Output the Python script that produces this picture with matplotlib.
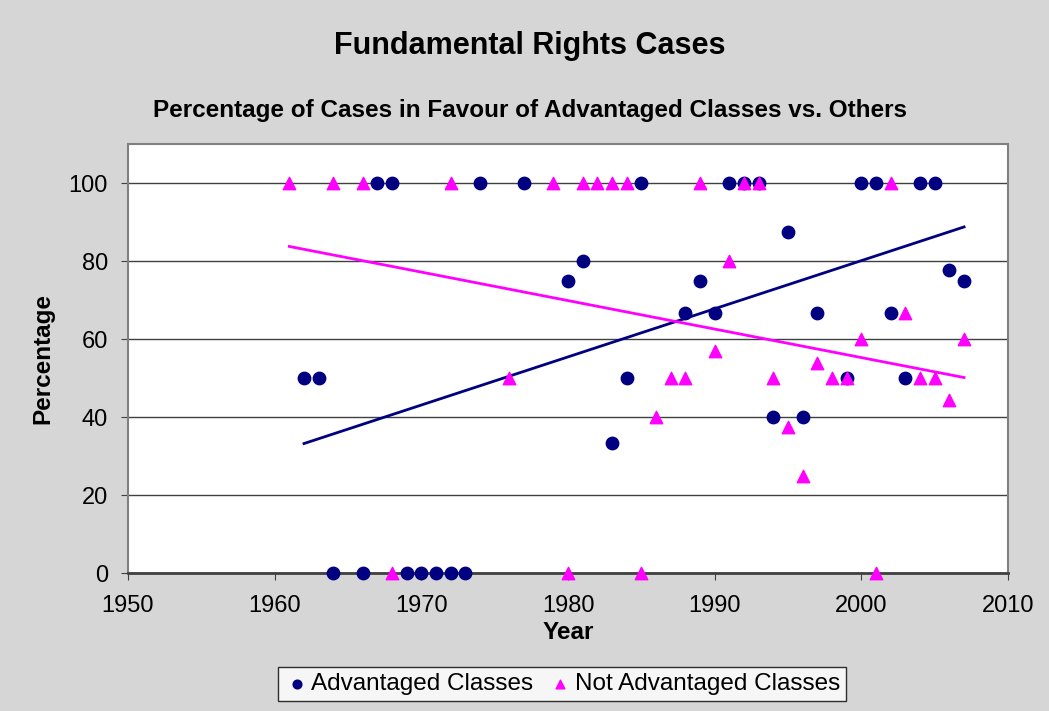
import numpy as np
import matplotlib
matplotlib.use("Agg")
import matplotlib.pyplot as plt

plt.rcParams['font.family'] = ['Liberation Sans', 'DejaVu Sans']

# Advantaged Classes
adv_years = [1962, 1963, 1964, 1966, 1967, 1968, 1969, 1970, 1971, 1972, 1973,
             1974, 1977, 1980, 1981, 1983, 1984, 1985, 1988, 1989, 1990, 1991,
             1992, 1993, 1994, 1995, 1996, 1997, 1999, 2000, 2001, 2002, 2003,
             2004, 2005, 2006, 2007]
adv_pct = [50, 50, 0, 0, 100, 100, 0, 0, 0, 0, 0,
           100, 100, 75, 80, 33.3, 50, 100, 66.7, 75, 66.7, 100,
           100, 100, 40, 87.5, 40, 66.7, 50, 100, 100, 66.7, 50,
           100, 100, 77.8, 75]

# Not Advantaged Classes
nadv_years = [1961, 1964, 1966, 1968, 1972, 1976, 1979, 1980, 1981, 1982, 1983,
              1984, 1985, 1986, 1987, 1988, 1989, 1990, 1991, 1992, 1993, 1994,
              1995, 1996, 1997, 1998, 1999, 2000, 2001, 2002, 2003, 2004, 2005,
              2006, 2007]
nadv_pct = [100, 100, 100, 0, 100, 50, 100, 0, 100, 100, 100,
            100, 0, 40, 50, 50, 100, 57.1, 80, 100, 100, 50,
            37.5, 25, 53.8, 50, 50, 60, 0, 100, 66.7, 50, 50,
            44.4, 60]

navy = '#000080'
magenta = '#ff00ff'

fig = plt.figure(figsize=(10.49, 7.11), dpi=100, facecolor='#d6d6d6')
ax = fig.add_axes([0.122, 0.194, 0.839, 0.603])
ax.set_facecolor('white')

# linear trendlines
for xs, ys, c in [(adv_years, adv_pct, navy), (nadv_years, nadv_pct, magenta)]:
    xs = np.array(xs, dtype=float)
    k, b = np.polyfit(xs, np.array(ys, dtype=float), 1)
    xx = np.array([xs.min(), xs.max()])
    ax.plot(xx, k * xx + b, color=c, lw=2, zorder=2)

ax.scatter(adv_years, adv_pct, s=80, marker='o', color=navy, zorder=3,
           label='Advantaged Classes', clip_on=False)
ax.scatter(nadv_years, nadv_pct, s=80, marker='^', color=magenta, zorder=3,
           label='Not Advantaged Classes', clip_on=False)

ax.set_xlim(1950, 2010)
ax.set_ylim(0, 110)
ax.set_xticks(range(1950, 2011, 10))
ax.set_yticks(range(0, 101, 20))
ax.yaxis.grid(True, color='#404040', lw=1)
ax.set_axisbelow(True)
ax.tick_params(labelsize=17, direction='out', length=5, color='#404040')
ax.tick_params(axis='x', pad=11)
ax.tick_params(axis='y', pad=9.5)

for side in ['top', 'right', 'left']:
    ax.spines[side].set_color('#808080')
    ax.spines[side].set_linewidth(1.5)
ax.spines['bottom'].set_color('#404040')
ax.spines['bottom'].set_linewidth(2)

ax.set_xlabel('Year', fontsize=17.5, fontweight='bold', labelpad=3)
ax.set_ylabel('Percentage', fontsize=17.5, fontweight='bold', labelpad=10)

fig.text(0.505, 0.935, 'Fundamental Rights Cases', ha='center', va='center',
         fontsize=22, fontweight='bold')
fig.text(0.505, 0.845, 'Percentage of Cases in Favour of Advantaged Classes vs. Others',
         ha='center', va='center', fontsize=17.5, fontweight='bold')

leg = fig.legend(loc='center', bbox_to_anchor=(0.536, 0.038), ncol=2,
                 fontsize=17.5, frameon=True, fancybox=False, edgecolor='black',
                 handletextpad=0.1, columnspacing=0.6, borderpad=0.25,
                 markerscale=0.7, handlelength=1.0)
leg.get_frame().set_facecolor('white')
leg.get_frame().set_linewidth(1)

fig.savefig('out.png', dpi=100, facecolor=fig.get_facecolor())
